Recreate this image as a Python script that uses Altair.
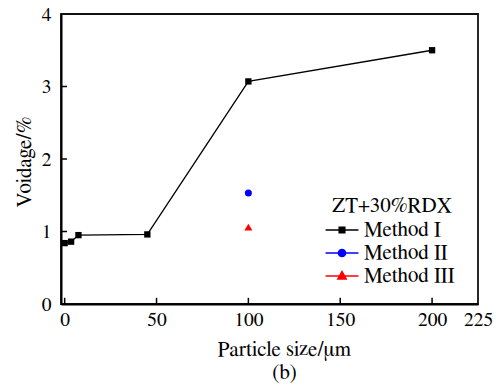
import altair as alt
import pandas as pd

# ---- data ----
m1_size = [0, 3.5, 7.5, 45, 100, 200]
m1_void = [0.84, 0.86, 0.95, 0.96, 3.07, 3.50]
m2_size = [100]
m2_void = [1.53]
m3_size = [100]
m3_void = [1.06]
methods = ["Method I", "Method II", "Method III"]
colors = ["#000000", "#0000FF", "#FF0000"]
x_ticks = [0, 50, 100, 150, 200, 225]
x_inner_ticks = [0, 50, 100, 150, 200]
y_ticks = [0, 1, 2, 3, 4]
y_inner_ticks = [1, 2, 3]
legend_title = "ZT+30%RDX"
x_title = ["Particle size/μm", "(b)"]
y_title = "Voidage/%"

FONT = "Nimbus Roman, Nimbus Roman No9 L, FreeSerif, Tinos, Noto Serif, DejaVu Serif"

df1 = pd.DataFrame({"size": m1_size, "void": m1_void, "method": methods[0]})
df2 = pd.DataFrame({"size": m2_size, "void": m2_void, "method": methods[1]})
df3 = pd.DataFrame({"size": m3_size, "void": m3_void, "method": methods[2]})

xs = alt.Scale(domain=[-2, 225], nice=False, zero=False)
ys = alt.Scale(domain=[0, 4], nice=False, zero=False)

x_axis = alt.Axis(values=x_ticks, title=x_title, ticks=False, grid=False,
                  labelFlush=False, labelOverlap=False, labelPadding=6,
                  labelFont=FONT, titleFont=FONT,
                  labelFontSize=19.5, titleFontSize=21, titleFontWeight="normal",
                  titleX=223, titleY=51, titleAlign="center",
                  titleBaseline="alphabetic", titleLineHeight=23,
                  domainColor="black", domainWidth=2, format="d")
y_axis = alt.Axis(values=y_ticks, title=y_title, ticks=False, grid=False,
                  labelFlush=False, labelOverlap=False, labelPadding=10,
                  labelFont=FONT, titleFont=FONT,
                  labelFontSize=19.5, titleFontSize=21, titleFontWeight="normal",
                  titleX=-31, titleY=147.5, titleAngle=270, titleAlign="center",
                  titleBaseline="alphabetic", domainColor="black", domainWidth=2,
                  format="d")

line = alt.Chart(df1).mark_line(color="black", strokeWidth=1.3).encode(
    x=alt.X("size:Q", scale=xs, axis=x_axis),
    y=alt.Y("void:Q", scale=ys, axis=y_axis),
)
pts1 = alt.Chart(df1).mark_point(shape="square", filled=True, color="black",
                                 size=40, opacity=1).encode(x="size:Q", y="void:Q")
pts2 = alt.Chart(df2).mark_point(shape="circle", filled=True, color="#0000FF",
                                 size=49, opacity=1).encode(x="size:Q", y="void:Q")
pts3 = alt.Chart(df3).mark_point(shape="triangle-up", filled=True, color="#FF0000",
                                 size=64, opacity=1).encode(x="size:Q", y="void:Q")

xt = alt.Chart(pd.DataFrame({"size": x_inner_ticks})).mark_rule(
    color="black", strokeWidth=1.5).encode(
    x="size:Q", y=alt.datum(0), y2=alt.datum(0.085))
yt = alt.Chart(pd.DataFrame({"void": y_inner_ticks})).mark_rule(
    color="black", strokeWidth=1.5).encode(
    y="void:Q", x=alt.datum(-2), x2=alt.datum(1.3))

sym_paths = [
    "M-1.4,0H1.4M-0.23,-0.23H0.23V0.23H-0.23Z",
    "M-1.4,0H1.4M0.3,0A0.3,0.3,0,1,1,-0.3,0A0.3,0.3,0,1,1,0.3,0Z",
    "M-1.4,0H1.4M0,-0.36L0.34,0.24L-0.34,0.24Z",
]


def leg():
    return alt.Legend(title=legend_title, orient="none", legendX=268, legendY=180.5,
                      titleFontSize=21, titleFont=FONT, titleFontWeight="normal",
                      titleAnchor="middle", titlePadding=1.5, labelFontSize=21,
                      labelFont=FONT, labelOffset=9, symbolSize=552,
                      symbolStrokeWidth=1.7, rowPadding=0, padding=0)


legend_layer = alt.Chart(pd.DataFrame({"method": methods})).mark_point(
    filled=True, clip=True, size=552, strokeWidth=1.7, opacity=1).encode(
    x=alt.value(-300), y=alt.value(-300),
    fill=alt.Fill("method:N", scale=alt.Scale(domain=methods, range=colors), legend=leg()),
    stroke=alt.Stroke("method:N", scale=alt.Scale(domain=methods, range=colors), legend=leg()),
    shape=alt.Shape("method:N", scale=alt.Scale(domain=methods, range=sym_paths), legend=leg()),
)

chart = alt.layer(line, xt, yt, pts1, pts2, pts3, legend_layer).properties(
    width=417, height=290,
    autosize=alt.AutoSizeParams(type="none"),
    padding={"left": 61, "top": 14, "right": 18, "bottom": 87},
    background="white",
).configure_view(stroke="#111111", strokeWidth=1.8).configure_axis(
    labelFont=FONT, titleFont=FONT, labelColor="black", titleColor="black"
).configure_legend(labelColor="black", titleColor="black",
                   labelFont=FONT, titleFont=FONT)

chart.save("out.html", embed_options={"renderer": "svg", "actions": False})
